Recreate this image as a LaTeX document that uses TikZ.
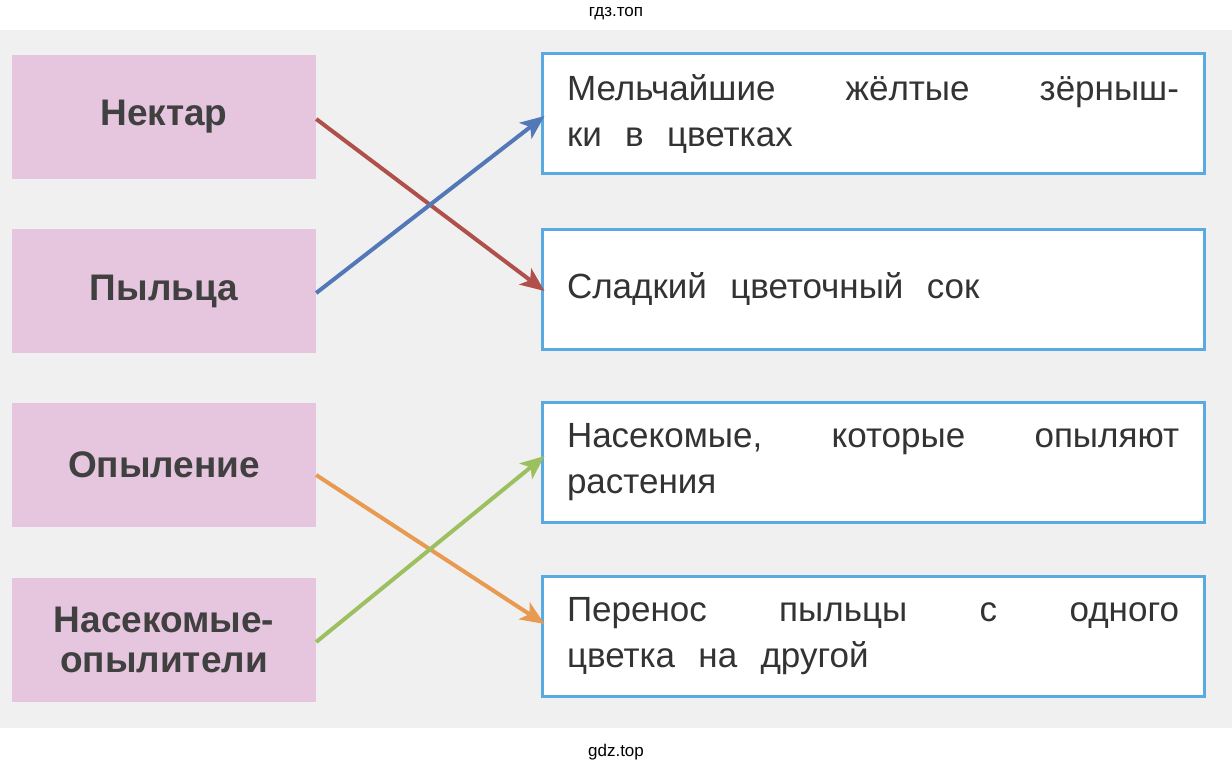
\documentclass[tikz,border=0pt]{standalone}
\usepackage{fontspec}
\setmainfont{Liberation Sans}
\usetikzlibrary{arrows.meta}
\definecolor{pinkf}{HTML}{E6C6DE}
\definecolor{bluee}{HTML}{5AAAE2}
\definecolor{bgc}{HTML}{F1F0F0}
\definecolor{redc}{HTML}{B0504A}
\definecolor{bluec}{HTML}{5278B8}
\definecolor{orc}{HTML}{E89A50}
\definecolor{grc}{HTML}{9CC060}
\newcommand{\jl}[1]{\hbox to 612pt{#1}}
\tikzset{
 lbox/.style={fill=pinkf,draw=none,minimum width=304pt,minimum height=124pt,inner sep=0pt,font=\fontsize{37}{40}\selectfont\bfseries,text=black!75,align=center},
 rbox/.style={fill=white,draw=bluee,line width=3pt,minimum width=662pt,minimum height=120pt,inner sep=0pt,font=\fontsize{35}{46}\selectfont,text=black!80,align=left,text width=612pt},
 arr/.style={line width=4pt,-{Stealth[length=24pt,width=20pt,inset=6pt]}}
}
\begin{document}
\begin{tikzpicture}[x=1pt,y=-1pt]
\useasboundingbox (0,0) rectangle (1232,773);
\fill[white] (0,0) rectangle (1232,773);
\fill[bgc] (0,30) rectangle (1232,728);
\node[font=\fontsize{17}{18}\selectfont] (t1) at (616,14) {гдз.топ};
\node[font=\fontsize{17}{18}\selectfont] (t2) at (616,752) {gdz.top};
\node[lbox] (l1) at (164,117) {Нектар};
\node[lbox] (l2) at (164,291) {Пыльца};
\node[lbox] (l3) at (164,465) {Опыление};
\node[lbox] (l4) at (164,640) {Насекомые-\\опылители};
\node[rbox] (r1) at (873,114) {\jl{Мельчайшие\hfill жёлтые\hfill зёрныш-}\\ки\ \ в\ \ цветках};
\node[rbox] (r2) at (873,289) {Сладкий\ \ цветочный\ \ сок};
\node[rbox] (r3) at (873,462) {\jl{Насекомые,\hfill которые\hfill опыляют}\\растения};
\node[rbox] (r4) at (873,636) {\jl{Перенос\hfill пыльцы\hfill с\hfill одного}\\цветка\ \ на\ \ другой};
\draw[arr,redc] ([yshift=-2pt]l1.east) -- ([xshift=4pt,yshift=-2pt]r2.west);
\draw[arr,bluec] ([yshift=-2pt]l2.east) -- ([xshift=4pt,yshift=-2pt]r1.west);
\draw[arr,orc] ([yshift=-10pt]l3.east) -- ([xshift=4pt,yshift=12pt]r4.west);
\draw[arr,grc] ([yshift=-2pt]l4.east) -- ([xshift=4pt,yshift=6pt]r3.west);
\end{tikzpicture}
\end{document}
